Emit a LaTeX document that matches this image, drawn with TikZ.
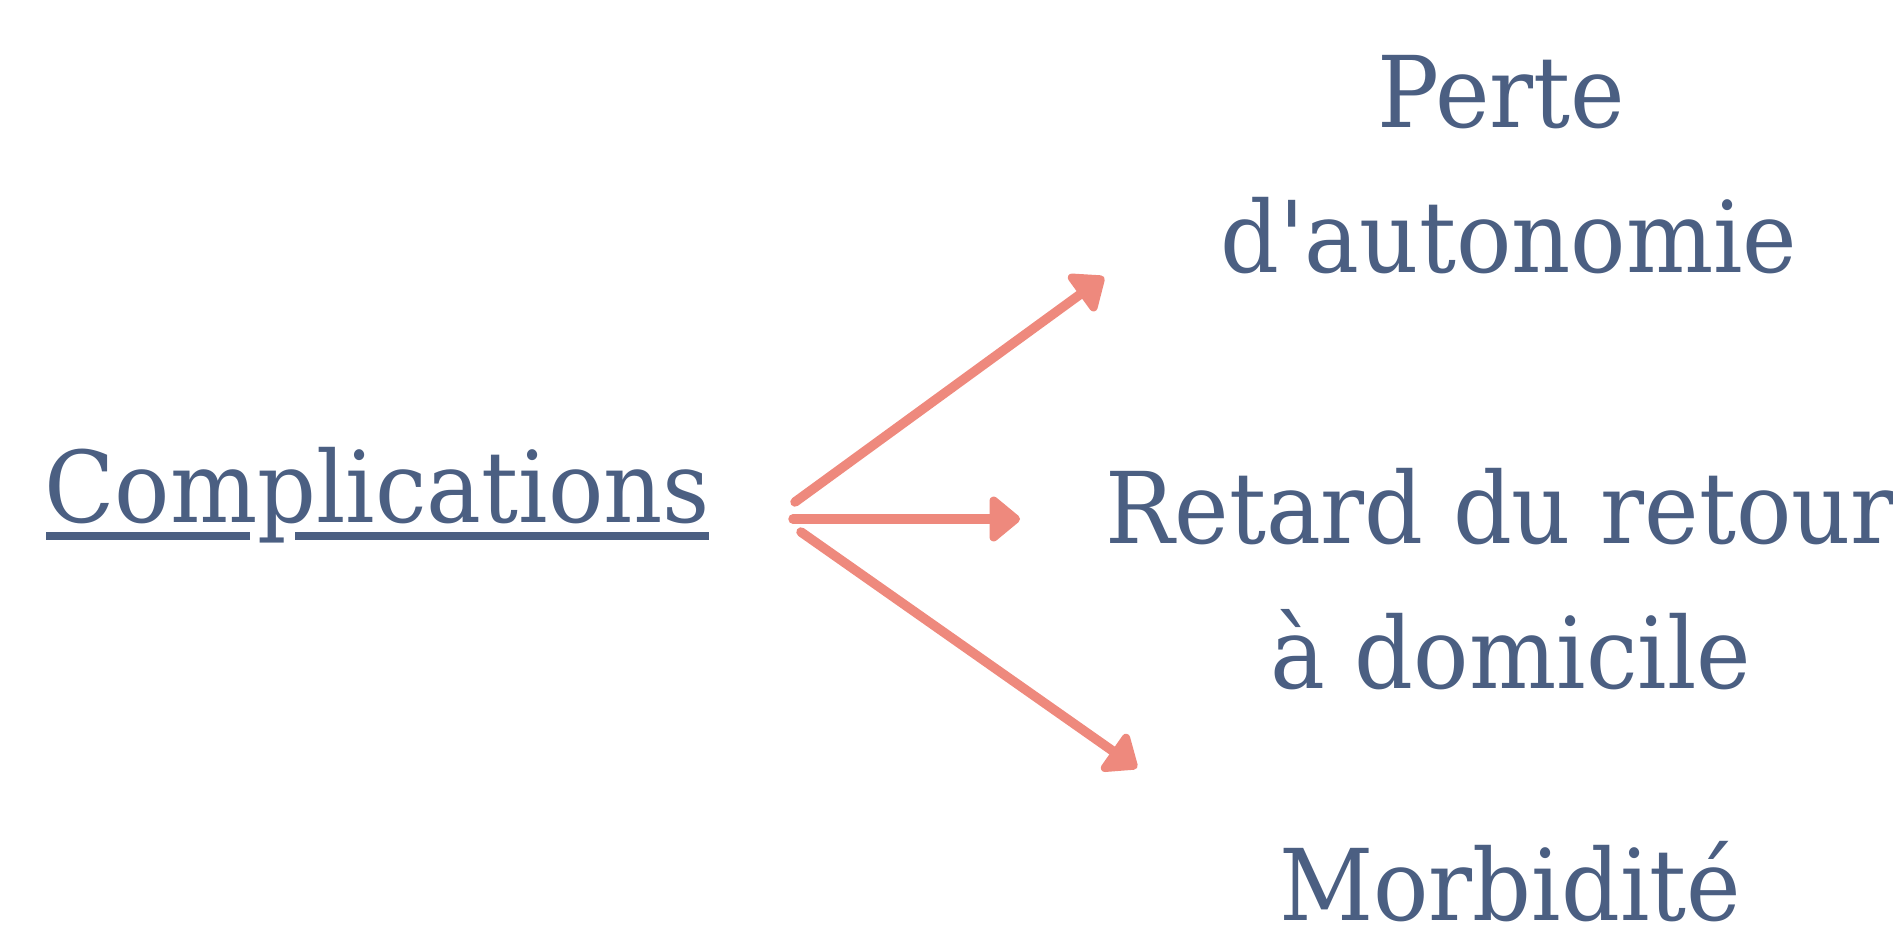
\documentclass[tikz,border=0pt]{standalone}
\usepackage{fontspec}
\setmainfont[FakeStretch=0.93, Ligatures=TeXOff]{DejaVu Serif}
\usetikzlibrary{arrows.meta}
\definecolor{txtblue}{HTML}{4B5F82}
\definecolor{salmon}{HTML}{EE897D}
\begin{document}
\begin{tikzpicture}[x=1pt,y=-1pt,
  lbl/.style={inner sep=0pt, text=txtblue, font=\fontsize{99}{120}\selectfont},
  arr/.style={draw=salmon, line width=9.5pt, line cap=round,
    -{Triangle[round, length=33pt, width=52pt]}},
  uline/.style={fill=txtblue, draw=none}]
\useasboundingbox (0,0) rectangle (1893,935);
% main label
\node[lbl, anchor=base west] (compl) at (44,522) {Complications};
\fill[uline] (46,532) rectangle (250,540);
\fill[uline] (295,532) rectangle (709,540);
% targets
\node[lbl, anchor=base] (perte) at (1501,127) {Perte};
\node[lbl, anchor=base] (auton) at (1509,272) {d'autonomie};
\node[lbl, anchor=base] (retard) at (1500,543) {Retard du retour};
\node[lbl, anchor=base] (domic) at (1511,688) {à domicile};
\node[lbl, anchor=base] (morb) at (1510,920) {Morbidité};
% arrow anchor points
\coordinate (s1) at (795,502);
\coordinate (s2) at (793,519);
\coordinate (s3) at (801,532);
\coordinate (e1) at (1104,277);
\coordinate (e2) at (1020,519);
\coordinate (e3) at (1137,768);
\draw[arr] (s1) -- (e1);
\draw[arr] (s2) -- (e2);
\draw[arr] (s3) -- (e3);
\end{tikzpicture}
\end{document}
